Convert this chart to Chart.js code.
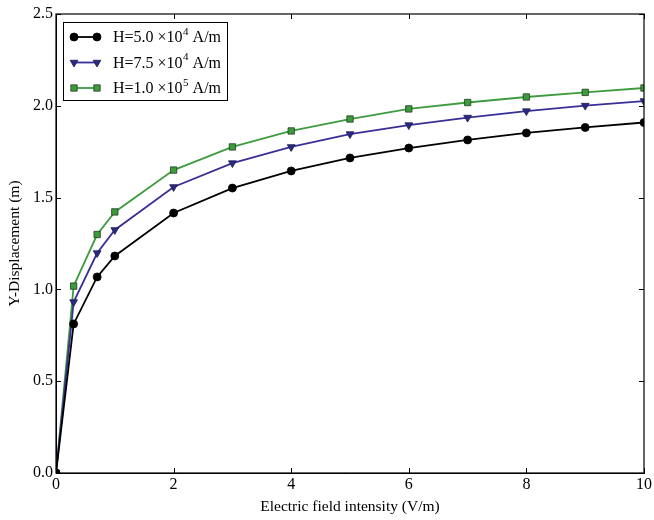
<!DOCTYPE html>
<html>
<head>
<meta charset="utf-8">
<script src="https://cdn.jsdelivr.net/npm/chart.js@4/dist/chart.umd.min.js"></script>
<style>
html,body{margin:0;padding:0;background:#fff;}
#wrap{width:654px;height:520px;}
</style>
</head>
<body>
<div id="wrap"><canvas id="c" width="654" height="520"></canvas></div>
<script>
const xValues = [0, 0.3, 0.7, 1, 2, 3, 4, 5, 6, 7, 8, 9, 10];
const seriesH1 = [0, 0.812, 1.068, 1.182, 1.416, 1.552, 1.645, 1.716, 1.770, 1.814, 1.852, 1.882, 1.909];
const seriesH2 = [0, 0.931, 1.198, 1.324, 1.558, 1.688, 1.776, 1.846, 1.895, 1.936, 1.971, 2.001, 2.026];
const seriesH3 = [0, 1.018, 1.299, 1.422, 1.650, 1.776, 1.863, 1.928, 1.983, 2.018, 2.048, 2.073, 2.097];
const legendBase = ["H=5.0 \u00d710", "H=7.5 \u00d710", "H=1.0 \u00d710"];
const legendExp = ["4", "4", "5"];
const legendUnit = " A/m";
const xTitle = "Electric field intensity (V/m)";
const yTitle = "Y-Displacement (m)";

const FONT = "'Liberation Serif', 'DejaVu Serif', serif";
const colors = [
  {line: "#000000", fill: "#000000", edge: "#000000", style: "circle", r: 4, rot: 0},
  {line: "#3a2f96", fill: "#2a2a80", edge: "#1c1c50", style: "triangle", r: 4.5, rot: 180},
  {line: "#3f9b3f", fill: "#3d9a3d", edge: "#1e3e1e", style: "rect", r: 4.5, rot: 0}
];
const allSeries = [seriesH1, seriesH2, seriesH3];

const datasets = allSeries.map((s, i) => ({
  label: legendBase[i] + legendExp[i] + legendUnit,
  data: xValues.map((x, j) => ({x: x, y: s[j]})),
  borderColor: colors[i].line,
  borderWidth: 1.8,
  backgroundColor: colors[i].fill,
  pointBackgroundColor: colors[i].fill,
  pointBorderColor: colors[i].edge,
  pointBorderWidth: 0.8,
  pointStyle: colors[i].style,
  pointRadius: colors[i].r,
  pointRotation: colors[i].rot,
  tension: 0,
  fill: false
}));

const framePlugin = {
  id: 'frame',
  afterDraw(chart) {
    const ctx = chart.ctx;
    const a = chart.chartArea;
    const xs = chart.scales.x, ys = chart.scales.y;
    ctx.save();
    ctx.strokeStyle = '#000';
    ctx.lineWidth = 1.2;
    ctx.strokeRect(a.left, a.top, a.right - a.left, a.bottom - a.top);
    ctx.lineWidth = 1;
    const tl = 5;
    xs.ticks.forEach(t => {
      const px = Math.round(xs.getPixelForValue(t.value)) + 0.5;
      ctx.beginPath();
      ctx.moveTo(px, a.bottom); ctx.lineTo(px, a.bottom - tl);
      ctx.moveTo(px, a.top); ctx.lineTo(px, a.top + tl);
      ctx.stroke();
    });
    ys.ticks.forEach(t => {
      const py = Math.round(ys.getPixelForValue(t.value)) + 0.5;
      ctx.beginPath();
      ctx.moveTo(a.left, py); ctx.lineTo(a.left + tl, py);
      ctx.moveTo(a.right, py); ctx.lineTo(a.right - tl, py);
      ctx.stroke();
    });
    // legend
    const bx = a.left + 7, by = a.top + 8, bw = 164, bh = 78;
    ctx.fillStyle = '#fff';
    ctx.fillRect(bx, by, bw, bh);
    ctx.strokeStyle = '#000';
    ctx.lineWidth = 1;
    ctx.strokeRect(bx + 0.5, by + 0.5, bw, bh);
    for (let i = 0; i < 3; i++) {
      const yy = by + 15 + i * 25.5;
      const x1 = bx + 11, x2 = bx + 34;
      const c = colors[i];
      ctx.strokeStyle = c.line;
      ctx.lineWidth = 1.8;
      ctx.beginPath(); ctx.moveTo(x1, yy); ctx.lineTo(x2, yy); ctx.stroke();
      [x1, x2].forEach(px => {
        ctx.fillStyle = c.fill; ctx.strokeStyle = c.edge; ctx.lineWidth = 0.8;
        Chart.helpers.drawPoint(ctx, {pointStyle: c.style, radius: c.r, rotation: c.rot, borderWidth: 0.8}, px, yy);
      });
      ctx.fillStyle = '#000';
      ctx.textBaseline = 'middle';
      ctx.textAlign = 'left';
      ctx.font = '16px ' + FONT;
      let tx = bx + 50;
      ctx.fillText(legendBase[i], tx, yy + 1);
      tx += ctx.measureText(legendBase[i]).width;
      ctx.font = '11px ' + FONT;
      ctx.fillText(legendExp[i], tx + 0.5, yy - 5);
      tx += ctx.measureText(legendExp[i]).width + 0.5;
      ctx.font = '16px ' + FONT;
      ctx.fillText(legendUnit, tx, yy + 1);
    }
    ctx.restore();
  }
};

new Chart(document.getElementById('c'), {
  type: 'line',
  data: {datasets: datasets},
  options: {
    responsive: false,
    animation: false,
    devicePixelRatio: 1,
    layout: {padding: {left: 0, right: 9, top: 14, bottom: 0}},
    plugins: {legend: {display: false}, tooltip: {enabled: false}},
    scales: {
      x: {
        type: 'linear', min: 0, max: 10,
        ticks: {stepSize: 2, color: '#000', font: {family: FONT, size: 16}, padding: 2, maxRotation: 0},
        grid: {display: false, drawTicks: false},
        border: {display: true, color: '#000', width: 1},
        title: {display: true, text: xTitle, color: '#000', font: {family: FONT, size: 15.5}, padding: {top: 7}},
        afterFit(s) { s.height = 47; }
      },
      y: {
        type: 'linear', min: 0, max: 2.5,
        ticks: {stepSize: 0.5, color: '#000', font: {family: FONT, size: 16}, padding: 3,
          callback: v => Number(v).toFixed(1)},
        grid: {display: false, drawTicks: false},
        border: {display: true, color: '#000', width: 1},
        title: {display: true, text: yTitle, color: '#000', font: {family: FONT, size: 15.5}, padding: {top: 6, bottom: 4}},
        afterFit(s) { s.width = 56; }
      }
    }
  },
  plugins: [framePlugin]
});
</script>
</body>
</html>
